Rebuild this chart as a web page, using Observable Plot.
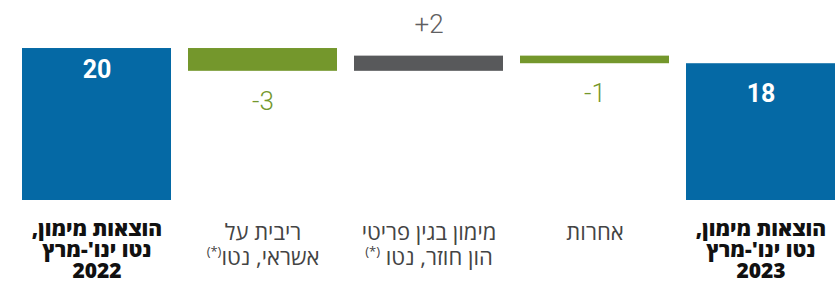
<!DOCTYPE html>
<html>
<head>
<meta charset="utf-8">
<script src="https://cdn.jsdelivr.net/npm/d3@7"></script>
<script src="https://cdn.jsdelivr.net/npm/@observablehq/plot@0.6"></script>
<style>
  html, body { margin: 0; padding: 0; background: #fff; }
  #chart svg { display: block; }
</style>
</head>
<body>
<div id="chart"></div>
<script>
// Data
const categories = [
  "הוצאות מימון,\nנטו ינו'-מרץ\n2022",
  "ריבית על\nאשראי, נטו(*)",
  "מימון בגין פריטי\nהון חוזר, נטו (*)",
  "אחרות",
  "הוצאות מימון,\nנטו ינו'-מרץ\n2023"
];
const values = [20, -3, 2, -1, 18];
const kinds = ["total", "delta", "delta", "delta", "total"];
const valueLabels = ["20", "-3", "+2", "-1", "18"];

// Build waterfall rows
let running = 0;
const rows = categories.map((c, i) => {
  let y1, y2;
  if (kinds[i] === "total") { y1 = 0; y2 = values[i]; running = values[i]; }
  else { y1 = running; y2 = running + values[i]; running = y2; }
  const type = kinds[i] === "total" ? "total" : (values[i] < 0 ? "neg" : "pos");
  return { cat: c, i, y1, y2, top: Math.max(y1, y2), bottom: Math.min(y1, y2), type, label: valueLabels[i] };
});

const colorScale = {
  domain: ["total", "neg", "pos"],
  range: ["#0569a5", "#74972c", "#58595b"]
};
const textColor = { total: "#ffffff", neg: "#74972c", pos: "#5f6062" };

const plot = Plot.plot({
  width: 836,
  height: 289,
  marginLeft: 21,
  marginRight: 0,
  marginTop: 0,
  marginBottom: 89,
  style: { background: "#fff", fontFamily: "Roboto, 'Open Sans', sans-serif" },
  x: { domain: categories, paddingInner: 0.1, paddingOuter: 0, axis: null },
  y: { domain: [0, 26.32], axis: null },
  color: colorScale,
  marks: [
    Plot.barY(rows, { x: "cat", y1: "y1", y2: "y2", fill: "type" }),
    // total labels
    Plot.text(rows.filter(d => d.i === 0), {
      x: "cat", y: "top", text: "label", dy: 21, fill: "#fff",
      fontSize: 25, fontWeight: "bold", fontFamily: "Roboto"
    }),
    Plot.text(rows.filter(d => d.i === 4), {
      x: "cat", y: "top", text: "label", dy: 30, fill: "#fff",
      fontSize: 25, fontWeight: "bold", fontFamily: "Roboto"
    }),
    // negative deltas below bar
    Plot.text(rows.filter(d => d.type === "neg"), {
      x: "cat", y: "bottom", text: "label", dy: 30, fill: textColor.neg,
      fontSize: 26, fontFamily: "Roboto", fontWeight: 300
    }),
    // positive deltas above bar
    Plot.text(rows.filter(d => d.type === "pos"), {
      x: "cat", y: "top", text: "label", dy: -31, fill: textColor.pos,
      fontSize: 26, fontFamily: "Roboto", fontWeight: 300
    }),
    // category labels: bold totals
    Plot.text(rows.filter(d => d.type === "total"), {
      x: "cat", y: 0, text: "cat", dy: 21, lineAnchor: "top", lineHeight: 1.0,
      fill: "#111", fontSize: 21, fontWeight: 800,
      fontFamily: "'Open Sans', 'Liberation Sans', sans-serif", className: "rtl-label"
    }),
    // category labels: regular deltas
    Plot.text(rows.filter(d => d.type !== "total"), {
      x: "cat", y: 0, text: "cat", dy: 22, lineAnchor: "top", lineHeight: 1.12,
      fill: "#444", fontSize: 22,
      fontFamily: "'Open Sans', 'Liberation Sans', sans-serif", className: "rtl-label"
    })
  ]
});

// right-to-left direction and superscript (*)
plot.querySelectorAll(".rtl-label text").forEach(t => t.setAttribute("direction", "rtl"));
plot.querySelectorAll(".rtl-label text tspan, .rtl-label text").forEach(el => {
  if (el.children.length) return;
  const s = el.textContent;
  if (s.includes("(*)")) {
    const main = s.replace("(*)", "");
    el.textContent = main;
    const sup = document.createElementNS("http://www.w3.org/2000/svg", "tspan");
    sup.setAttribute("font-size", "13");
    sup.setAttribute("baseline-shift", "super");
    sup.textContent = "(*)";
    el.appendChild(sup);
  }
});

document.getElementById("chart").appendChild(plot);
</script>
</body>
</html>
